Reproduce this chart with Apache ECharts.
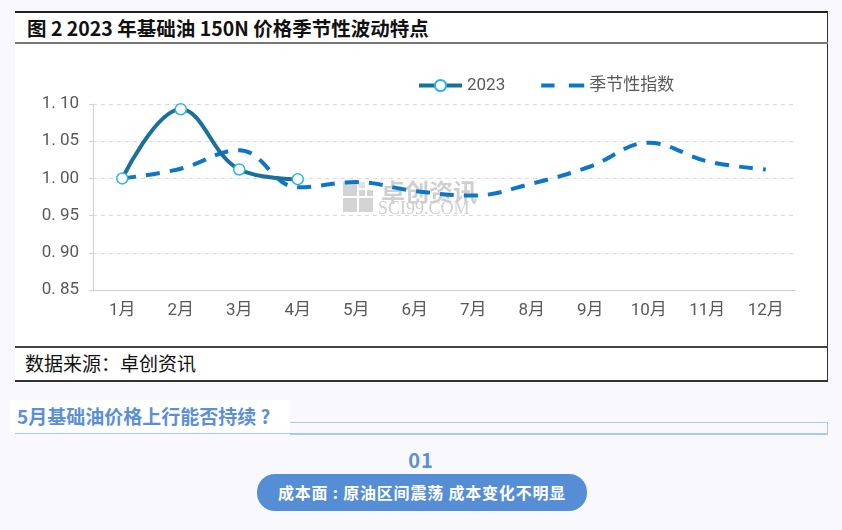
<!DOCTYPE html>
<html><head><meta charset="utf-8">
<script src="https://cdn.jsdelivr.net/npm/echarts@6/dist/echarts.min.js"></script>
<style>
html,body{margin:0;padding:0;width:842px;height:530px;background:#f8f8fd;overflow:hidden;font-family:"Noto Sans CJK SC","Noto Sans",sans-serif;}
.abs{position:absolute;white-space:nowrap;}
#panel{left:15px;top:11px;width:812px;height:367px;background:#fff;border-top:2px solid #222;border-right:1px solid #333;border-bottom:2px solid #333;}
#title{left:27px;top:14px;font-size:19.5px;font-weight:bold;color:#111;line-height:28px;}
#tline{left:15px;top:42px;width:813px;height:2px;background:#777;}
#sline{left:15px;top:346px;width:813px;height:2px;background:#444;}
#src{left:25px;top:349px;font-size:19px;color:#111;line-height:28px;}
#hbox{left:10px;top:400px;width:280px;height:32px;background:#fff;}
#head{left:17px;top:401px;font-size:19px;font-weight:bold;color:#5b8fd6;line-height:30px;}
#hrect{left:290px;top:422px;width:537px;height:11px;border:1px solid #a9c9f0;border-left:none;}
#hline{left:15px;top:433px;width:813px;height:1px;background:#a9c9f0;}
#num{left:395px;top:446px;width:52px;text-align:center;font-size:20px;font-weight:bold;color:#5b8fd6;line-height:28px;letter-spacing:1px;}
#btn{left:257px;top:474px;width:330px;height:37px;border-radius:18px;background:#558ed5;color:#fff;font-size:16px;font-weight:bold;text-align:center;line-height:37px;letter-spacing:0.8px;}
#chart{left:0;top:0;width:842px;height:530px;}
</style></head>
<body>
<div id="panel" class="abs"></div>
<div id="title" class="abs">图 2 2023 年基础油 150N 价格季节性波动特点</div>
<div id="tline" class="abs"></div>
<div id="sline" class="abs"></div>
<div id="src" class="abs">数据来源：卓创资讯</div>
<div id="hline" class="abs"></div>
<div id="hrect" class="abs"></div>
<div id="hbox" class="abs"></div>
<div id="head" class="abs">5月基础油价格上行能否持续 ?</div>
<div id="num" class="abs">01</div>
<div id="btn" class="abs">成本面 : 原油区间震荡 成本变化不明显</div>
<div id="chart" class="abs"></div>
<script>
var categories = ['1月','2月','3月','4月','5月','6月','7月','8月','9月','10月','11月','12月'];
var seriesNames = ['2023','季节性指数'];
var values2023 = [1.000, 1.093, 1.012, 0.999];
var seasonalIndex = [1.000, 1.013, 1.038, 0.988, 0.995, 0.983, 0.977, 0.993, 1.016, 1.048, 1.023, 1.012];
var yTicks = {min: 0.85, max: 1.10, interval: 0.05};

var chart = echarts.init(document.getElementById('chart'), null, {renderer:'canvas'});
var lblFont = 'Roboto, "Noto Sans CJK SC", sans-serif';
chart.setOption({
  backgroundColor: 'transparent',
  animation: false,
  grid: {left: 93, right: 47, top: 104, bottom: 240},
  legend: {
    left: 412, top: 72, itemWidth: 43, itemHeight: 14, itemGap: 36,
    textStyle: {color: '#595959', fontSize: 17, fontFamily: lblFont},
    data: [
      {name: seriesNames[0], lineStyle: {width: 4, color: '#1b6f9c'}},
      {name: seriesNames[1], icon: 'path://M0,0H13V4H0Z M27,0H42V4H27Z', itemStyle: {color: '#0e76c6'}}
    ]
  },
  xAxis: {
    type: 'category', data: categories, boundaryGap: true,
    axisLine: {lineStyle: {color: '#d0d0d0', width: 1}},
    axisTick: {show: false},
    axisLabel: {color: '#595959', fontSize: 17, margin: 12, fontFamily: lblFont}
  },
  yAxis: {
    type: 'value', min: yTicks.min, max: yTicks.max, interval: yTicks.interval,
    axisLine: {show: true, lineStyle: {color: '#d0d0d0'}},
    axisTick: {show: true, length: 4, lineStyle: {color: '#d0d0d0'}},
    axisLabel: {color: '#595959', fontSize: 17, margin: 14, fontFamily: lblFont,
      formatter: function(v){ return v.toFixed(2).replace('.', '. '); }},
    splitLine: {lineStyle: {color: '#d9d9d9', type: [4,4], width: 1}}
  },
  graphic: [
    {type:'group', left: 343, top: 180, silent: true, z: 0, children: [
      {type:'rect', shape:{x:0,y:0,width:14,height:14}, style:{fill:'#d4d4d4'}},
      {type:'rect', shape:{x:16,y:0,width:6,height:6}, style:{fill:'#e2e2e2'}},
      {type:'rect', shape:{x:24,y:8,width:6,height:6}, style:{fill:'#d4d4d4'}},
      {type:'rect', shape:{x:16,y:8,width:6,height:6}, style:{fill:'#d4d4d4'}},
      {type:'rect', shape:{x:0,y:16,width:14,height:14}, style:{fill:'#d4d4d4'}},
      {type:'rect', shape:{x:16,y:16,width:14,height:14}, style:{fill:'#d4d4d4'}},
      {type:'text', x: 38, y: -2, style:{text:'卓创资讯', fill:'#cfcfcf', font:'bold 24px "Noto Sans CJK SC"'}},
      {type:'text', x: 35, y: 18, style:{text:'SCI99.COM', fill:'#cfcfcf', font:'18px "Liberation Serif", serif'}}
    ]}
  ],
  series: [
    {
      name: seriesNames[0], type: 'line', data: values2023, smooth: 0.4,
      symbol: 'circle', symbolSize: 11, showAllSymbol: true, z: 3,
      lineStyle: {color: '#1b6f9c', width: 4},
      itemStyle: {color: '#ffffff', borderColor: '#2bb4ea', borderWidth: 1.5}
    },
    {
      name: seriesNames[1], type: 'line', data: seasonalIndex, smooth: 0.4,
      symbol: 'none', z: 2,
      lineStyle: {color: '#0e76c6', width: 4, type: [14, 10]},
      itemStyle: {color: '#0e76c6'}
    }
  ]
});
</script>
</body></html>
